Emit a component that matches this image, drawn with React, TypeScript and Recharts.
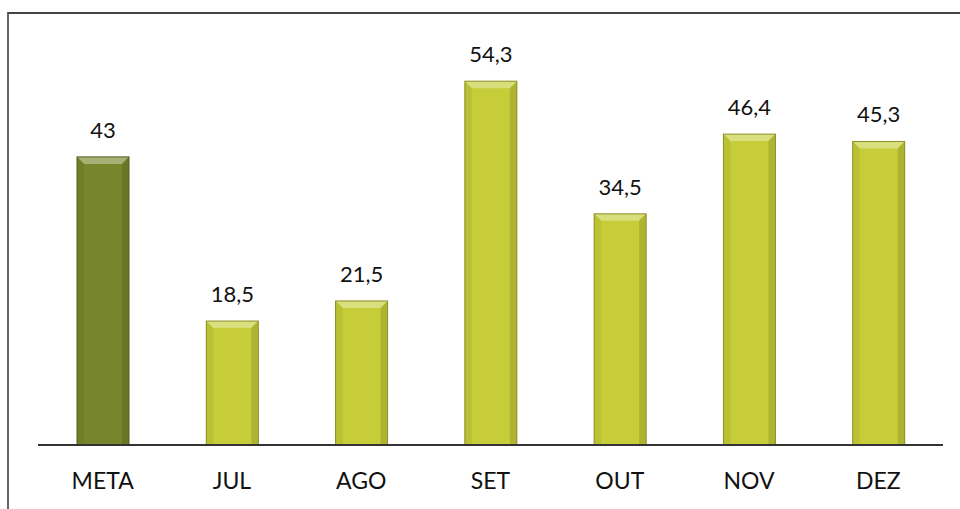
import { BarChart, Bar, XAxis, YAxis, Cell, LabelList } from 'recharts';

const months = ['META', 'JUL', 'AGO', 'SET', 'OUT', 'NOV', 'DEZ'];
const values = [43, 18.5, 21.5, 54.3, 34.5, 46.4, 45.3];

const data = months.map((m, i) => ({ month: m, value: values[i] }));

const targetColor = '#77862a';
const monthColor = '#c6cd38';

const fmt = (v: any) => String(v).replace('.', ',');

function shade(hex: string, amt: number) {
  const n = parseInt(hex.slice(1), 16);
  const c = [(n >> 16) & 255, (n >> 8) & 255, n & 255].map((v) =>
    Math.max(0, Math.min(255, Math.round(amt > 0 ? v + (255 - v) * amt : v * (1 + amt))))
  );
  return `rgb(${c[0]},${c[1]},${c[2]})`;
}

// bar with a small bevel on top, like the office chart style
function BevelBar(props: any) {
  const { x, y, width, height, fill } = props;
  if (!height || height <= 0) return null;
  const b = 7;
  return (
    <g>
      <rect x={x} y={y} width={width} height={height} fill={fill} />
      <polygon
        points={`${x},${y} ${x + width},${y} ${x + width - b},${y + b} ${x + b},${y + b}`}
        fill={shade(fill, 0.35)}
      />
      <polygon
        points={`${x},${y} ${x + b},${y + b} ${x + b},${y + height} ${x},${y + height}`}
        fill={shade(fill, -0.06)}
      />
      <polygon
        points={`${x + width},${y} ${x + width - b},${y + b} ${x + width - b},${y + height} ${x + width},${y + height}`}
        fill={shade(fill, -0.12)}
      />
      <rect x={x} y={y} width={width} height={height} fill="none" stroke={shade(fill, -0.3)} strokeWidth={1} />
    </g>
  );
}

export default function App() {
  return (
    <div style={{ position: 'absolute', left: 0, top: 0, width: 960, height: 509, background: '#fff', overflow: 'hidden' }}>
      <div
        style={{
          position: 'absolute',
          left: 7,
          top: 12,
          width: 1000,
          height: 600,
          borderLeft: '2px solid #666',
          borderTop: '2px solid #444',
        }}
      />
      <BarChart
        width={960}
        height={509}
        data={data}
        margin={{ top: 43, right: 17, left: 38, bottom: 4 }}
        barSize={52}
        style={{ fontFamily: 'Lato, "Open Sans", sans-serif' }}
      >
        <XAxis
          dataKey="month"
          height={60}
          axisLine={{ stroke: '#333', strokeWidth: 2 }}
          tickLine={false}
          tickMargin={22}
          tick={{ fill: '#111', fontSize: 23 }}
          interval={0}
        />
        <YAxis hide domain={[0, 60]} />
        <Bar dataKey="value" isAnimationActive={false} shape={<BevelBar />}>
          {data.map((d, i) => (
            <Cell key={d.month} fill={i === 0 ? targetColor : monthColor} />
          ))}
          <LabelList dataKey="value" position="top" offset={19} formatter={fmt} fill="#111" fontSize={22} />
        </Bar>
      </BarChart>
    </div>
  );
}
